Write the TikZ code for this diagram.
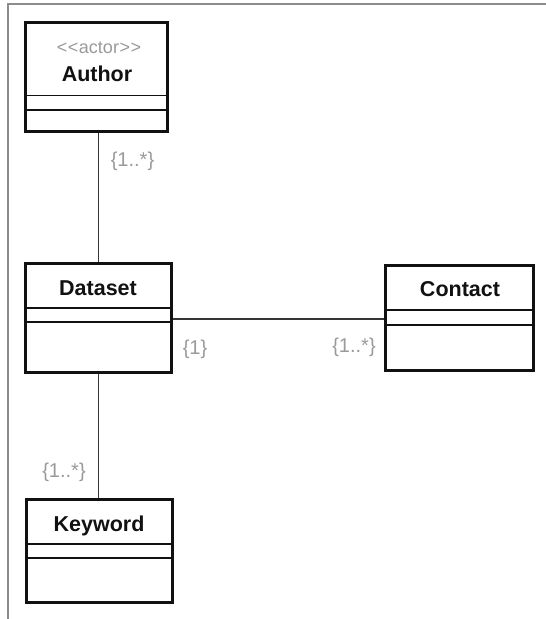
\documentclass[tikz,border=0pt]{standalone}
\usepackage{fontspec}
\setmainfont{Liberation Sans}
\definecolor{framegray}{HTML}{8C8C8C}
\definecolor{labelgray}{HTML}{9A9A9A}
\definecolor{inkblack}{HTML}{111111}
\begin{document}
\begin{tikzpicture}[x=1pt,y=-1pt,
  classbox/.style={draw=inkblack, line width=3pt, rectangle, inner sep=0pt, fill=white},
  compline/.style={draw=inkblack, line width=1.6pt},
  assoc/.style={draw=inkblack!85, line width=1.5pt},
  classname/.style={font=\fontsize{21.5}{24}\selectfont\bfseries, text=inkblack, inner sep=0pt, anchor=base},
  mult/.style={font=\fontsize{20}{24}\selectfont, text=labelgray, inner sep=0pt},
  stereo/.style={font=\fontsize{18}{20}\selectfont, text=labelgray, inner sep=0pt}
]
\useasboundingbox (0,0) rectangle (546,619);
% frame
\draw[framegray, line width=2pt] (7.5,619) -- (7.5,4) -- (546,4);

% class boxes
\node[classbox, minimum width=142pt, minimum height=109pt] (author) at (96,76.5) {};
\node[classbox, minimum width=146pt, minimum height=109.5pt] (dataset) at (98.5,317.75) {};
\node[classbox, minimum width=148pt, minimum height=105pt] (contact) at (459,317.5) {};
\node[classbox, minimum width=146pt, minimum height=103pt] (keyword) at (99,550.5) {};

% connectors
\draw[assoc] (dataset.north) -- (dataset.north |- author.south);
\draw[assoc] (dataset.south) -- (dataset.south |- keyword.north);
\draw[assoc] ([yshift=-1pt]dataset.east) -- ([yshift=-1pt]dataset.east -| contact.west);

% compartments
\draw[compline] (author.west |- 0,95.5) -- (author.east |- 0,95.5);
\draw[compline] (author.west |- 0,110) -- (author.east |- 0,110);
\draw[compline] (dataset.west |- 0,307.7) -- (dataset.east |- 0,307.7);
\draw[compline] (dataset.west |- 0,321.7) -- (dataset.east |- 0,321.7);
\draw[compline] (contact.west |- 0,310) -- (contact.east |- 0,310);
\draw[compline] (contact.west |- 0,325) -- (contact.east |- 0,325);
\draw[compline] (keyword.west |- 0,544) -- (keyword.east |- 0,544);
\draw[compline] (keyword.west |- 0,558) -- (keyword.east |- 0,558);

% names
\node[stereo] (authorstereo) at (99,48) {<\kern0.5pt<\kern0.5pt actor\kern0.5pt>\kern0.5pt>};
\node[classname] (authorname) at (97,81.7) {Author};
\node[classname] (datasetname) at (98,295) {Dataset};
\node[classname] (contactname) at (460,296.5) {Contact};
\node[classname] (keywordname) at (99,531.5) {Keyword};

% multiplicities
\node[mult] (m1) at (132.5,161) {\{1..*\}};
\node[mult] (m2) at (195,349) {\{1\}};
\node[mult] (m3) at (354,347) {\{1..*\}};
\node[mult] (m4) at (64,472) {\{1..*\}};
\end{tikzpicture}
\end{document}
